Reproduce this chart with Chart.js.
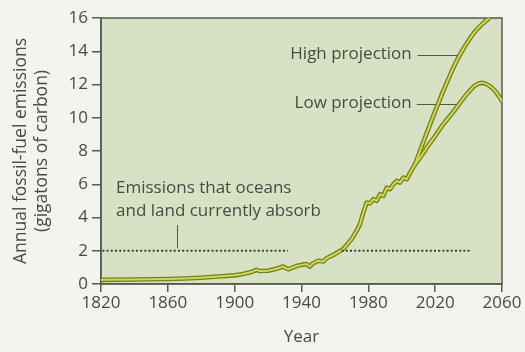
<!DOCTYPE html>
<html>
<head>
<meta charset="utf-8">
<script src="https://cdn.jsdelivr.net/npm/chart.js@4"></script>
<style>
  html, body { margin: 0; padding: 0; background: #f4f4ef; }
  #wrap { width: 525px; height: 352px; }
</style>
</head>
<body>
<div id="wrap"><canvas id="c" width="525" height="352"></canvas></div>
<script>
// ---- data ----
const histYears  = [1820, 1840, 1860, 1870, 1880, 1890, 1900, 1905, 1910, 1913, 1915, 1920, 1925, 1929, 1932, 1937, 1940, 1943, 1945, 1947, 1950, 1953, 1955, 1960, 1965, 1970, 1973, 1975, 1977, 1979, 1981, 1983, 1985, 1987, 1989, 1991, 1993, 1995, 1997, 1999, 2001, 2003, 2005, 2008];
const histValues = [0.25, 0.27, 0.3, 0.33, 0.38, 0.45, 0.52, 0.6, 0.72, 0.85, 0.78, 0.8, 0.92, 1.05, 0.88, 1.08, 1.15, 1.2, 1.05, 1.25, 1.4, 1.35, 1.55, 1.8, 2.1, 2.7, 3.2, 3.6, 4.3, 4.9, 4.85, 5.1, 5.0, 5.4, 5.3, 5.8, 5.7, 6.0, 6.2, 6.1, 6.4, 6.3, 6.7, 7.2];
const highYears  = [2008, 2012, 2016, 2020, 2024, 2028, 2032, 2036, 2040, 2044, 2048, 2052, 2056];
const highValues = [7.2, 8.3, 9.35, 10.4, 11.4, 12.35, 13.25, 14.0, 14.65, 15.2, 15.62, 15.97, 16.3];
const lowYears   = [2008, 2012, 2016, 2020, 2024, 2028, 2032, 2036, 2040, 2044, 2048, 2052, 2056, 2060];
const lowValues  = [7.2, 7.75, 8.35, 8.9, 9.5, 10.0, 10.5, 11.05, 11.55, 11.95, 12.1, 11.95, 11.6, 11.0];
const absorbLevel = 2;
const absorbStarts = [1820.8, 1964];
const absorbEnds   = [1932, 2042];
const xTickValues = [1820, 1860, 1900, 1940, 1980, 2020, 2060];
const yTickValues = [0, 2, 4, 6, 8, 10, 12, 14, 16];
const yTitle = ['Annual fossil-fuel emissions', '(gigatons of carbon)'];
const xTitle = 'Year';
const absorbNote = ['Emissions that oceans', 'and land currently absorb'];
const highLabel = 'High projection';
const lowLabel = 'Low projection';

// ---- styling ----
const FONT = '"Open Sans", "Noto Sans", sans-serif';
const TEXT = '#4a4a44';
const AXIS = '#5a5a52';
const PLOT_BG = '#d7e2c5';
const LINE_OUT = '#717f2c';
const LINE_IN = '#d2da3e';

const pts = (xs, ys) => xs.map((x, i) => ({x: x, y: ys[i]}));
const absorbPts = [];
absorbStarts.forEach((s, i) => {
  if (i > 0) absorbPts.push({x: (absorbEnds[i-1] + s) / 2, y: null});
  absorbPts.push({x: s, y: absorbLevel});
  absorbPts.push({x: absorbEnds[i], y: absorbLevel});
});

function lineDs(data, outline, tension) {
  return {
    data: data,
    borderColor: outline ? LINE_OUT : LINE_IN,
    borderWidth: outline ? 4.6 : 2,
    pointRadius: 0,
    tension: tension,
    cubicInterpolationMode: tension ? 'monotone' : 'default',
    order: outline ? 3 : 2,
    clip: 0,
    borderCapStyle: 'round',
    borderJoinStyle: 'round'
  };
}

const plotDecor = {
  id: 'plotDecor',
  beforeDraw(chart) {
    const {ctx, chartArea: a} = chart;
    ctx.save();
    ctx.fillStyle = '#f4f4ef';
    ctx.fillRect(0, 0, chart.width, chart.height);
    ctx.fillStyle = PLOT_BG;
    ctx.fillRect(a.left, a.top, a.right - a.left, a.bottom - a.top);
    ctx.restore();
  },
  beforeDatasetsDraw(chart) {
    const {ctx, chartArea: a, scales: {x, y}} = chart;
    ctx.save();
    ctx.strokeStyle = AXIS;
    ctx.lineWidth = 1.5;
    ctx.strokeRect(a.left, a.top, a.right - a.left, a.bottom - a.top);
    // annotation texts
    ctx.fillStyle = TEXT;
    ctx.font = '17px ' + FONT;
    ctx.textBaseline = 'middle';
    ctx.textAlign = 'left';
    ctx.fillText(absorbNote[0], x.getPixelForValue(1829), y.getPixelForValue(5.75));
    ctx.fillText(absorbNote[1], x.getPixelForValue(1829), y.getPixelForValue(4.4));
    ctx.textAlign = 'right';
    ctx.fillText(highLabel, x.getPixelForValue(2006), y.getPixelForValue(13.8));
    ctx.fillText(lowLabel, x.getPixelForValue(2006), y.getPixelForValue(10.85));
    // leader lines
    ctx.strokeStyle = '#55554d';
    ctx.lineWidth = 1;
    ctx.beginPath();
    const px = Math.round(x.getPixelForValue(1865.5)) + 0.5;
    ctx.moveTo(px, y.getPixelForValue(3.55));
    ctx.lineTo(px, y.getPixelForValue(2.15));
    const hy = Math.round(y.getPixelForValue(13.75)) + 0.5;
    ctx.moveTo(x.getPixelForValue(2009.5), hy);
    ctx.lineTo(x.getPixelForValue(2034.5), hy);
    const ly = Math.round(y.getPixelForValue(10.85)) + 0.5;
    ctx.moveTo(x.getPixelForValue(2009), ly);
    ctx.lineTo(x.getPixelForValue(2035), ly);
    ctx.stroke();
    ctx.restore();
  }
};

new Chart(document.getElementById('c'), {
  type: 'line',
  data: {
    datasets: [
      lineDs(pts(histYears, histValues), true, 0),
      lineDs(pts(highYears, highValues), true, 0.4),
      lineDs(pts(lowYears, lowValues), true, 0.4),
      lineDs(pts(histYears, histValues), false, 0),
      lineDs(pts(highYears, highValues), false, 0.4),
      lineDs(pts(lowYears, lowValues), false, 0.4),
      {
        data: absorbPts,
        borderColor: '#3f3f3a',
        borderWidth: 2,
        borderDash: [2, 2.2],
        pointRadius: 0,
        spanGaps: false,
        order: 1
      }
    ]
  },
  options: {
    responsive: false,
    animation: false,
    devicePixelRatio: 1,
    layout: { padding: { top: 18, right: 23, left: 0, bottom: 0 } },
    plugins: { legend: { display: false }, tooltip: { enabled: false } },
    scales: {
      x: {
        type: 'linear',
        min: 1820, max: 2060,
        afterBuildTicks(s) { s.ticks = xTickValues.map(v => ({value: v})); },
        afterFit(s) { s.height = 68; },
        ticks: { color: TEXT, font: { family: FONT, size: 17 }, padding: 1, maxRotation: 0, autoSkip: false,
                 callback: v => String(v) },
        grid: { drawOnChartArea: false, drawTicks: true, tickLength: 8, color: AXIS, lineWidth: 1.5 },
        border: { display: true, color: AXIS, width: 1.5 },
        title: { display: true, text: xTitle, color: TEXT, font: { family: FONT, size: 17 }, padding: { top: 0, bottom: 5 } }
      },
      y: {
        min: 0, max: 16,
        afterBuildTicks(s) { s.ticks = yTickValues.map(v => ({value: v})); },
        afterFit(s) { s.width = 101; },
        ticks: { color: TEXT, font: { family: FONT, size: 17 }, padding: 4, autoSkip: false,
                 callback: v => String(v) },
        grid: { drawOnChartArea: false, drawTicks: true, tickLength: 9, color: AXIS, lineWidth: 1.5 },
        border: { display: true, color: AXIS, width: 1.5 },
        title: { display: true, text: yTitle, color: TEXT, font: { family: FONT, size: 17.5, lineHeight: 1.2 }, padding: { top: 11, bottom: 0 } }
      }
    }
  },
  plugins: [plotDecor]
});
</script>
</body>
</html>
